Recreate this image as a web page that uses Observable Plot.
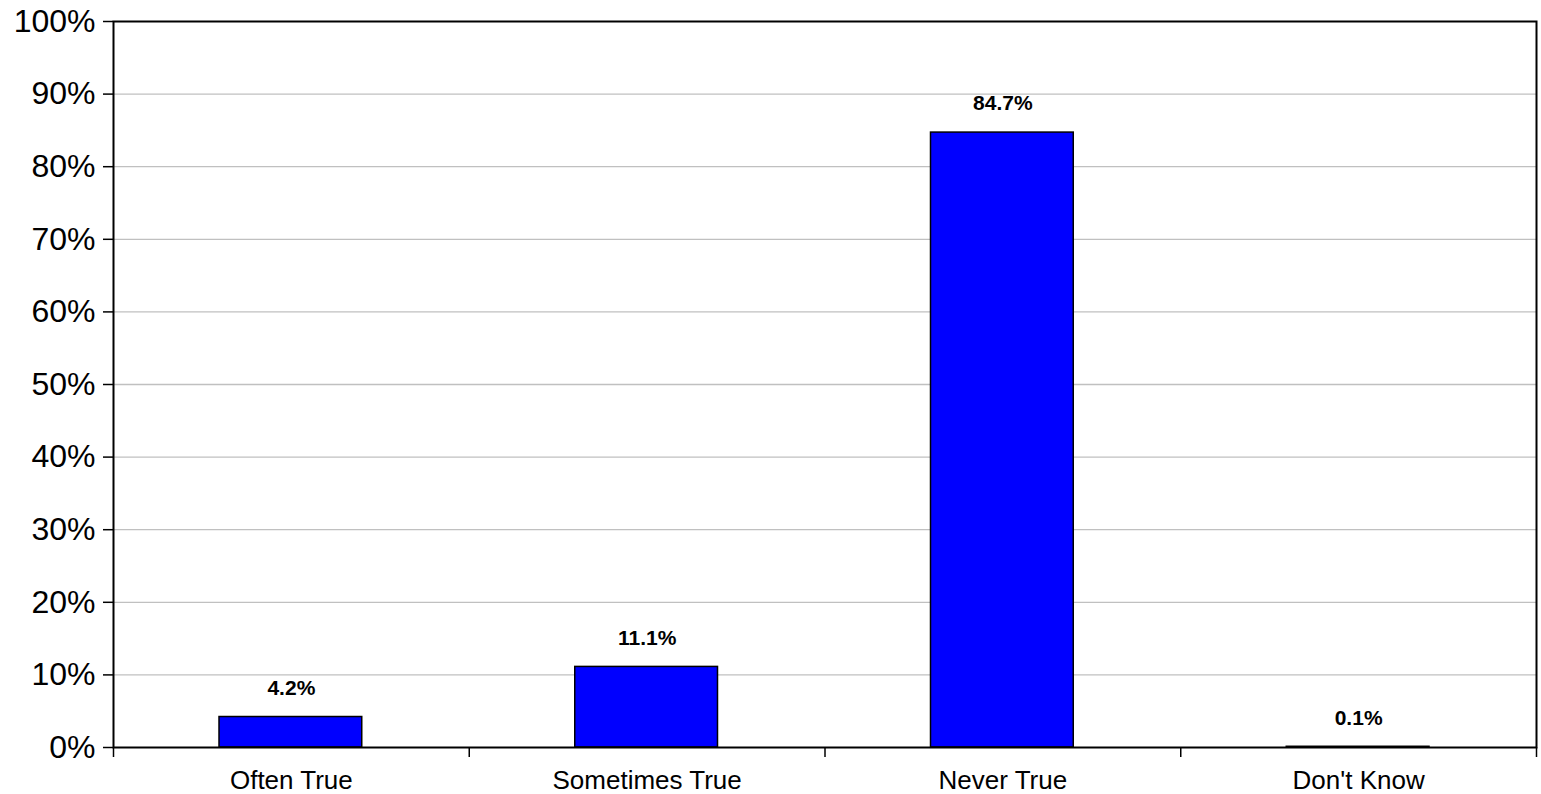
<!DOCTYPE html>
<html><head><meta charset="utf-8">
<script src="https://cdn.jsdelivr.net/npm/d3@7"></script>
<script src="https://cdn.jsdelivr.net/npm/@observablehq/plot@0.6"></script>
<style>body{margin:0;background:#fff}</style>
</head><body><div id="chart"></div>
<script>
const categories = ["Often True", "Sometimes True", "Never True", "Don't Know"];
const values = [4.2, 11.1, 84.7, 0.1];
const yTicks = [0, 10, 20, 30, 40, 50, 60, 70, 80, 90, 100];

const data = categories.map((c, i) => ({category: c, index: i, value: values[i]}));
const boundaries = d3.range(categories.length + 1);
const centers = categories.map((c, i) => i + 0.5);

const chart = Plot.plot({
  width: 1541, height: 794,
  marginLeft: 113, marginRight: 5, marginTop: 21, marginBottom: 47,
  style: {fontFamily: "'Liberation Sans', Arial, sans-serif", background: "#fff", color: "#000"},
  x: {type: "linear", domain: [0, categories.length], label: null},
  y: {domain: [0, 100], label: null},
  marks: [
    Plot.gridY(yTicks.slice(1, -1), {stroke: "#c0c0c0", strokeOpacity: 1, strokeWidth: 1.3}),
    Plot.rect(data, {x1: "index", x2: d => d.index + 1, y1: 0, y2: "value", insetLeft: 106, insetRight: 107, fill: "#0000ff", stroke: "#000", strokeWidth: 1.5}),
    Plot.text(data, {x: d => d.index + 0.5, y: "value", text: d => d.value.toFixed(1) + "%", dy: -29, fontWeight: "bold", fontSize: 21, fill: "#000"}),
    Plot.axisY({ticks: yTicks, tickFormat: d => d + "%", tickSize: 10, tickPadding: 8, fontSize: 32, strokeWidth: 1.5, label: null}),
    Plot.axisX({ticks: boundaries, tickFormat: () => "", tickSize: 10, strokeWidth: 1.5, label: null}),
    Plot.axisX({ticks: centers, tickFormat: d => categories[Math.floor(d)], tickSize: 0, tickPadding: 23, fontSize: 26, label: null}),
    Plot.frame({stroke: "#000", strokeWidth: 2})
  ]
});
document.getElementById("chart").appendChild(chart);
</script>
</body></html>
